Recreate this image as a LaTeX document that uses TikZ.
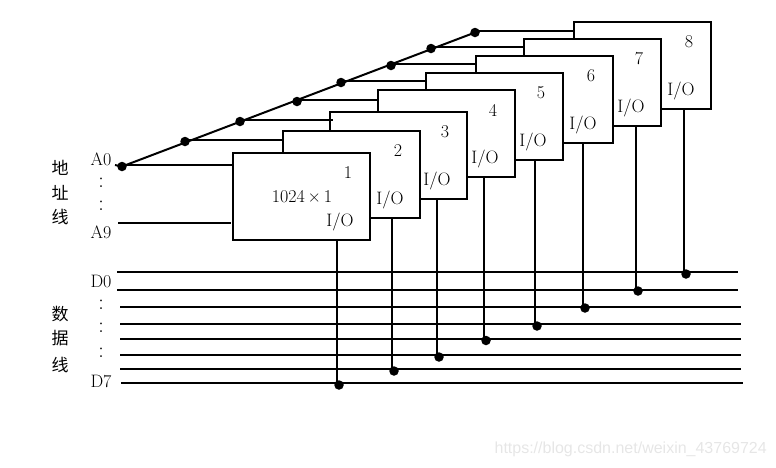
\documentclass[tikz,border=0pt]{standalone}
\usepackage{fontspec}
\newfontfamily\cjk{Noto Sans CJK SC}
\newfontfamily\markfont{Liberation Sans}
\usepackage{xcolor}
\definecolor{fmark}{HTML}{E6E6E6}
\tikzset{
  chip/.style  = {draw, line width=2pt, fill=white, rectangle, anchor=north west,
                  minimum width=137pt, minimum height=87pt, inner sep=0pt, outer sep=0pt},
  joint/.style = {fill, circle, inner sep=0pt, minimum size=9.5pt},
  wire/.style  = {line width=2pt},
  lab/.style   = {font=\fontsize{18}{18}\selectfont, inner sep=0pt},
  han/.style   = {font=\fontsize{17}{17}\selectfont\cjk, inner sep=0pt},
}
\begin{document}
\begin{tikzpicture}[x=1pt,y=-1pt]
\useasboundingbox (0,0) rectangle (776,467);
% chips, back to front
\foreach \n/\x/\y in {8/574/22, 7/524/39, 6/476/56, 5/426/73, 4/378/90, 3/330/112, 2/283/131, 1/233/153}{
  \node[chip] (chip\n) at (\x,\y) {};
  \node[lab] (num\n) at ([shift={(115,20)}]chip\n.north west) {\n};
  \node[lab] (io\n) at ([shift={(107,69)}]chip\n.north west) {I/O};}
\node[lab] (size) at ([shift={(69,44)}]chip1.north west) {1024\hspace{3pt}×\hspace{3pt}1};
% address lines
\foreach \n/\x/\y in {1/122/166.5, 2/185/141.5, 3/240/121.5, 4/297/101.5, 5/341/82.5, 6/391/65.5, 7/431/48.5, 8/475/32.5}{
  \node[joint] (a\n) at (\x,\y) {};
  \draw[wire] ([yshift=1.5pt]a\n.center) -- ([yshift=1.5pt]a\n.center -| chip\n.west);}
\draw[wire] (a1.center) -- (a8.center);
\draw[wire] ([shift={(-7pt,1.5pt)}]a1.center) -- (a1.center);
\draw[wire] ([yshift=1.5pt]a3.center -| chip3.west) -- ++(3,0);
\coordinate (a9) at (118,223);
\draw[wire,shorten >=2pt] (a9) -- (a9 -| chip1.west);
% data lines
\foreach \k/\xl/\xr/\y in {0/117/738/272, 1/117/738/290, 2/120/741/307, 3/120/741/324, 4/120/741/339, 5/120/741/355, 6/120/741/369, 7/121/743/383}{
  \coordinate (dl\k) at (\xl,\y);
  \coordinate (dr\k) at (\xr,\y);
  \draw[wire] (dl\k) -- (dr\k);}
% I/O drops
\foreach \n/\x/\y in {1/339/385, 2/394/371, 3/439/357, 4/486/340.5, 5/537/326, 6/585/308, 7/638/291, 8/686/274}{
  \node[joint] (b\n) at (\x,\y) {};
  \draw[wire] ([xshift=-2pt]b\n.center |- chip\n.south) -- ([xshift=-2pt]b\n.center);}
% left labels
\foreach \t/\y in {A0/159, A9/232, D0/281, D7/381}
  \node[lab] (lab\t) at (101,\y) {\t};
\foreach \y in {182.5, 206, 304.5, 327.5, 352.5}
  \node[lab,font=\fontsize{22}{22}\selectfont] at (101,\y) {:};
\foreach \t/\y in {地/168, 址/193, 线/217, 数/314, 据/338, 线/365}
  \node[han] at (60,\y) {\t};
\node[text=fmark,font=\fontsize{16}{16}\selectfont\markfont,inner sep=0pt,anchor=east] (mark) at (767,449) {https://blog.csdn.net/weixin\_43769724};
\end{tikzpicture}
\end{document}
